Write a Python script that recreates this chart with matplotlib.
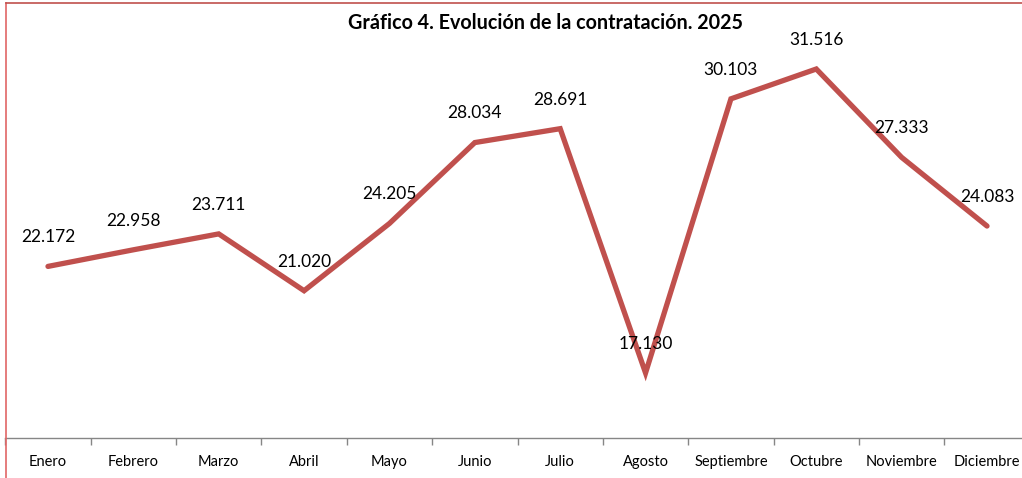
import matplotlib.pyplot as plt
from matplotlib.lines import Line2D

meses = ["Enero", "Febrero", "Marzo", "Abril", "Mayo", "Junio", "Julio",
         "Agosto", "Septiembre", "Octubre", "Noviembre", "Diciembre"]
contratos = [22.172, 22.958, 23.711, 21.020, 24.205, 28.034, 28.691,
             17.130, 30.103, 31.516, 27.333, 24.083]
etiquetas = ["22.172", "22.958", "23.711", "21.020", "24.205", "28.034", "28.691",
             "17.130", "30.103", "31.516", "27.333", "24.083"]

W, H = 1022, 478
plt.rcParams["font.family"] = ["Lato", "DejaVu Sans"]

fig = plt.figure(figsize=(W / 100, H / 100), dpi=100)
# plot area in pixel coords: x 5.3..1029.7, y 3..438 (from top)
left, right, top, bottom = 5.3, 1029.7, 3, 438
ax = fig.add_axes([left / W, 1 - bottom / H, (right - left) / W, (bottom - top) / H])

x = list(range(len(meses)))
ax.plot(x, contratos, color="#C0504D", linewidth=3.8, solid_capstyle="round",
        solid_joinstyle="miter")
for xi, v, lab in zip(x, contratos, etiquetas):
    ax.annotate(lab, (xi, v), xytext=(0, 21), textcoords="offset points",
                ha="center", va="center", fontsize=12.5, color="black")

ax.set_xlim(-0.5, 11.5)
ax.set_ylim(14.05, 34.64)
ax.set_yticks([])
ax.set_xticks([i + 0.5 for i in range(-1, 12)], minor=False)
ax.set_xticklabels([])
ax.set_xticks(x, minor=True)
ax.set_xticklabels(meses, minor=True, fontsize=10.5)
ax.tick_params(axis="x", which="major", length=5, color="#868686", width=1)
ax.tick_params(axis="x", which="minor", length=0, pad=12)
for s in ["top", "right", "left"]:
    ax.spines[s].set_visible(False)
ax.spines["bottom"].set_color("#868686")
ax.spines["bottom"].set_linewidth(1)

fig.text(545 / W, 1 - 23 / H, "Gráfico 4. Evolución de la contratación. 2025",
         ha="center", va="center", fontsize=14.2, fontweight="bold")

# frame lines of the surrounding box
fig.add_artist(Line2D([6 / W, 6 / W], [0, 1 - 3 / H], color="#E06666", linewidth=1.2))
fig.add_artist(Line2D([6 / W, 1], [1 - 3 / H, 1 - 3 / H], color="#C0504D", linewidth=1.2))

fig.savefig("out.png", dpi=100)
